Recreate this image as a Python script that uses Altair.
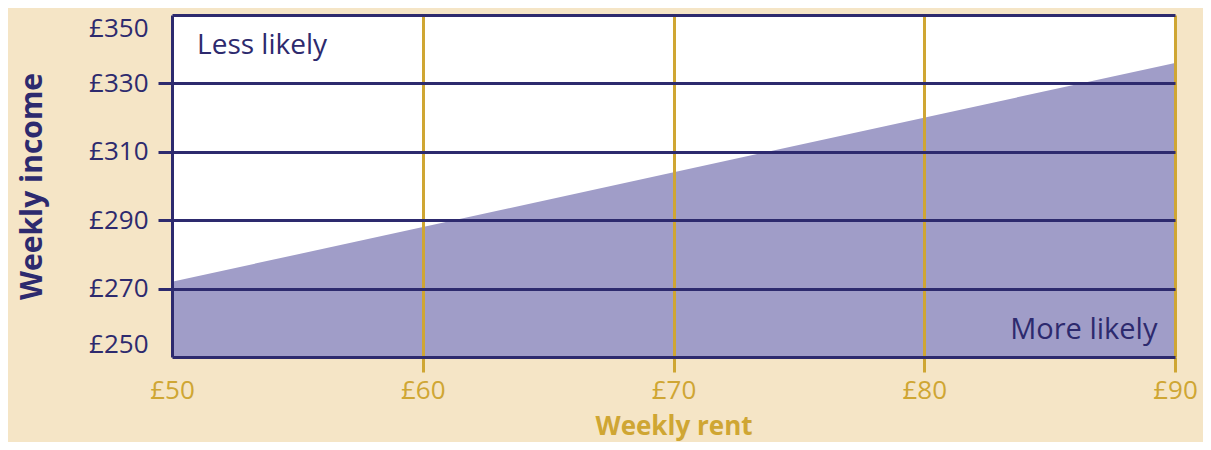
import altair as alt
import pandas as pd

rent = [50, 90]
income_line = [272, 336]
income_base = [250, 250]

x_ticks = [50, 60, 70, 80, 90]
y_ticks = [250, 270, 290, 310, 330, 350]

note_text = ["Less likely", "More likely"]
note_x = [51.0, 89.3]
note_y = [341.0, 258.0]

NAVY = "#2d2a6e"
GOLD = "#cfa633"
FILL = "#a09dc8"
BG = "#f5e5c6"
FONT = "Open Sans"

area_df = pd.DataFrame({"rent": rent, "income": income_line, "base": income_base})
notes_df = pd.DataFrame({"text": note_text, "x": note_x, "y": note_y})

xscale = alt.Scale(domain=[50, 90], nice=False, zero=False)
yscale = alt.Scale(domain=[250, 350], nice=False, zero=False)

xaxis = alt.Axis(
    title="Weekly rent", values=x_ticks, format="d", labelExpr="'£' + datum.label",
    grid=True, gridColor=GOLD, gridWidth=3,
    gridOpacity={"condition": {"test": "datum.value == 50", "value": 0}, "value": 1},
    tickColor=GOLD, tickWidth=3, tickSize=15,
    tickOpacity={"condition": {"test": "datum.value == 50", "value": 0}, "value": 1},
    domainColor=NAVY, domainWidth=3,
    labelColor=GOLD, labelFont=FONT, labelFontSize=26, labelPadding=5, labelFlush=False,
    titleColor=GOLD, titleFont=FONT, titleFontSize=26, titleFontWeight="bold", titlePadding=10,
    zindex=1,
)
yaxis = alt.Axis(
    title="Weekly income", values=y_ticks, format="d", labelExpr="'£' + datum.label",
    grid=True, gridColor=NAVY, gridWidth=3,
    gridOpacity={"condition": {"test": "datum.value == 250", "value": 0}, "value": 1},
    tickColor=NAVY, tickWidth=3, tickSize=14,
    tickOpacity={"condition": {"test": "datum.value == 250 || datum.value == 350", "value": 0}, "value": 1},
    domainColor=NAVY, domainWidth=3,
    labelColor=NAVY, labelFont=FONT, labelFontSize=26, labelPadding=10, labelFlush=True,
    titleColor=NAVY, titleFont=FONT, titleFontSize=30, titleFontWeight="bold", titlePadding=41,
    zindex=2,
)

area = alt.Chart(area_df).mark_area(color=FILL, opacity=1).encode(
    x=alt.X("rent:Q", scale=xscale, axis=xaxis),
    y=alt.Y("income:Q", scale=yscale, axis=yaxis),
    y2="base:Q",
)

base_notes = alt.Chart(notes_df)
note_left = base_notes.transform_filter(alt.datum.text == "Less likely").mark_text(
    font=FONT, fontSize=28, color=NAVY, baseline="middle", align="left"
).encode(x=alt.X("x:Q", scale=xscale), y=alt.Y("y:Q", scale=yscale), text="text:N")
note_right = base_notes.transform_filter(alt.datum.text == "More likely").mark_text(
    font=FONT, fontSize=29, color=NAVY, baseline="middle", align="right"
).encode(x=alt.X("x:Q", scale=xscale), y=alt.Y("y:Q", scale=yscale), text="text:N")

chart = (area + note_left + note_right).properties(
    width=1003, height=342, background=BG,
    autosize=alt.AutoSizeParams(type="none"),
    padding={"left": 164, "top": 7, "right": 28, "bottom": 85},
).configure_view(fill="white", stroke=None)

chart.save("out.html", embed_options={"renderer": "svg", "actions": False})
